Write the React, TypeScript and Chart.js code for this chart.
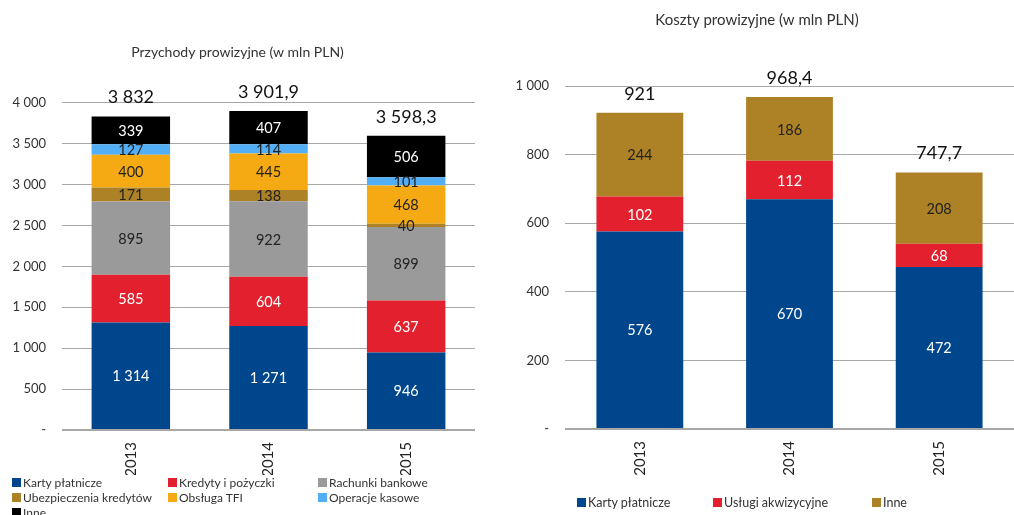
import React, { useEffect, useRef } from "react";
import { Chart, registerables } from "chart.js";

Chart.register(...registerables);

const FONT = "Lato, 'Open Sans', sans-serif";

// ---- Left chart data: Przychody prowizyjne ----
const years = ["2013", "2014", "2015"];
const revKarty = [1314, 1271, 946];
const revKredyty = [585, 604, 637];
const revRachunki = [895, 922, 899];
const revUbezp = [171, 138, 40];
const revTFI = [400, 445, 468];
const revKasowe = [127, 114, 101];
const revInne = [339, 407, 506];
const revTotals = [3832, 3901.9, 3598.3];
const revTicks = [0, 500, 1000, 1500, 2000, 2500, 3000, 3500, 4000];

// ---- Right chart data: Koszty prowizyjne ----
const costKarty = [576, 670, 472];
const costAkwiz = [102, 112, 68];
const costInne = [244, 186, 208];
const costTotals = [921, 968.4, 747.7];
const costTicks = [0, 200, 400, 600, 800, 1000];

const NAVY = "#00468C";
const RED = "#E3202D";
const GREY = "#9A9A9A";
const BROWN = "#AD8125";
const ORANGE = "#F5AA14";
const LIGHTBLUE = "#52AEF5";
const BLACK = "#000000";

function fmt(v: number): string {
  if (v === 0) return "-";
  const neg = v < 0;
  const parts = Math.abs(v).toString().split(".");
  const int = parts[0].replace(/\B(?=(\d{3})+(?!\d))/g, " ");
  return (neg ? "-" : "") + int + (parts[1] ? "," + parts[1] : "");
}

type DS = { label: string; data: number[]; color: string; text: string };

const labelsPlugin = (totals: number[]) => ({
  id: "segLabels",
  afterDatasetsDraw(chart: any) {
    const ctx = chart.ctx;
    ctx.save();
    ctx.textAlign = "center";
    ctx.textBaseline = "middle";
    const n = chart.data.datasets.length;
    chart.data.datasets.forEach((ds: any, i: number) => {
      const meta = chart.getDatasetMeta(i);
      meta.data.forEach((el: any, j: number) => {
        const v = ds.data[j];
        ctx.font = `14.5px ${FONT}`;
        ctx.fillStyle = ds.textColor;
        ctx.fillText(fmt(v), el.x, (el.y + el.base) / 2 + 1);
        if (i === n - 1) {
          ctx.font = `18px ${FONT}`;
          ctx.fillStyle = "#111";
          ctx.fillText(fmt(totals[j]), el.x, el.y - 19);
        }
      });
    });
    ctx.restore();
  },
});

function makeConfig(
  title: string,
  titleSize: number,
  sets: DS[],
  totals: number[],
  ticks: number[],
  yWidth: number,
  xHeight: number,
  titlePad: { top: number; bottom: number },
  padRight: number,
  barPct: number
): any {
  const max = ticks[ticks.length - 1];
  const step = ticks[1] - ticks[0];
  return {
    type: "bar",
    data: {
      labels: years,
      datasets: sets.map((s) => ({
        label: s.label,
        data: s.data,
        backgroundColor: s.color,
        textColor: s.text,
        borderWidth: 0,
        categoryPercentage: barPct,
        barPercentage: 1,
      })),
    },
    options: {
      animation: false,
      responsive: false,
      maintainAspectRatio: false,
      layout: { padding: { left: 0, right: padRight, top: 0, bottom: 0 } },
      plugins: {
        legend: { display: false },
        tooltip: { enabled: false },
        title: {
          display: true,
          text: title,
          color: "#333",
          font: { family: FONT, size: titleSize, weight: "normal" },
          padding: titlePad,
        },
      },
      scales: {
        x: {
          stacked: true,
          grid: { display: false, drawTicks: false },
          border: { display: false },
          ticks: {
            minRotation: 90,
            maxRotation: 90,
            padding: 12,
            color: "#222",
            font: { family: FONT, size: 15 },
          },
          afterFit(scale: any) {
            scale.height = xHeight;
          },
        },
        y: {
          stacked: true,
          min: 0,
          max,
          ticks: {
            stepSize: step,
            padding: 16,
            color: "#333",
            font: { family: FONT, size: 13 },
            callback: (v: any) => fmt(Number(v)),
          },
          grid: {
            drawTicks: false,
            color: "#A8A8A8",
            lineWidth: (c: any) => (c.tick && c.tick.value === 0 ? 2 : 1),
          },
          border: { display: false },
          afterFit(scale: any) {
            scale.width = yWidth;
          },
        },
      },
    },
    plugins: [labelsPlugin(totals)],
  };
}

const leftSets: DS[] = [
  { label: "Karty płatnicze", data: revKarty, color: NAVY, text: "#fff" },
  { label: "Kredyty i pożyczki", data: revKredyty, color: RED, text: "#fff" },
  { label: "Rachunki bankowe", data: revRachunki, color: GREY, text: "#222" },
  { label: "Ubezpieczenia kredytów", data: revUbezp, color: BROWN, text: "#222" },
  { label: "Obsługa TFI", data: revTFI, color: ORANGE, text: "#222" },
  { label: "Operacje kasowe", data: revKasowe, color: LIGHTBLUE, text: "#222" },
  { label: "Inne", data: revInne, color: BLACK, text: "#fff" },
];

const rightSets: DS[] = [
  { label: "Karty płatnicze", data: costKarty, color: NAVY, text: "#fff" },
  { label: "Usługi akwizycyjne", data: costAkwiz, color: RED, text: "#fff" },
  { label: "Inne", data: costInne, color: BROWN, text: "#222" },
];

function ChartCanvas(props: { config: any; width: number; height: number; left: number }) {
  const ref = useRef<HTMLCanvasElement | null>(null);
  useEffect(() => {
    if (!ref.current) return;
    const c = new Chart(ref.current, props.config);
    return () => c.destroy();
  }, []);
  return (
    <canvas
      ref={ref}
      width={props.width}
      height={props.height}
      style={{ position: "absolute", left: props.left, top: 0, width: props.width, height: props.height }}
    />
  );
}

function LegendItem(props: { color: string; label: string; x: number; y: number; size: number }) {
  return (
    <div
      style={{
        position: "absolute",
        left: props.x,
        top: props.y - 8,
        height: 16,
        display: "flex",
        alignItems: "center",
        fontFamily: FONT,
        fontSize: props.size,
        color: "#333",
        whiteSpace: "nowrap",
      }}
    >
      <span style={{ display: "inline-block", width: 9, height: 9, background: props.color, marginRight: 2 }} />
      {props.label}
    </div>
  );
}

export default function App() {
  const leftCfg = makeConfig(
    "Przychody prowizyjne (w mln PLN)",
    14,
    leftSets,
    revTotals,
    revTicks,
    62,
    45,
    { top: 44, bottom: 42 },
    25,
    0.57
  );
  const rightCfg = makeConfig(
    "Koszty prowizyjne (w mln PLN)",
    15,
    rightSets,
    costTotals,
    costTicks,
    65,
    46,
    { top: 11, bottom: 57 },
    0,
    0.58
  );
  const leftCols = [12, 168, 318];
  const leftRows = [482, 497, 512];
  const rightXs = [577, 713, 872];
  return (
    <div style={{ position: "absolute", left: 0, top: 0, width: 1014, height: 515, overflow: "hidden", background: "#fff" }}>
      <ChartCanvas config={leftCfg} width={500} height={475} left={0} />
      <ChartCanvas config={rightCfg} width={514} height={475} left={500} />
      {leftSets.map((s, i) => (
        <LegendItem key={"l" + i} size={12} color={s.color} label={s.label} x={leftCols[i % 3]} y={leftRows[Math.floor(i / 3)]} />
      ))}
      {rightSets.map((s, i) => (
        <LegendItem key={"r" + i} size={12.5} color={s.color} label={s.label} x={rightXs[i]} y={502} />
      ))}
    </div>
  );
}
